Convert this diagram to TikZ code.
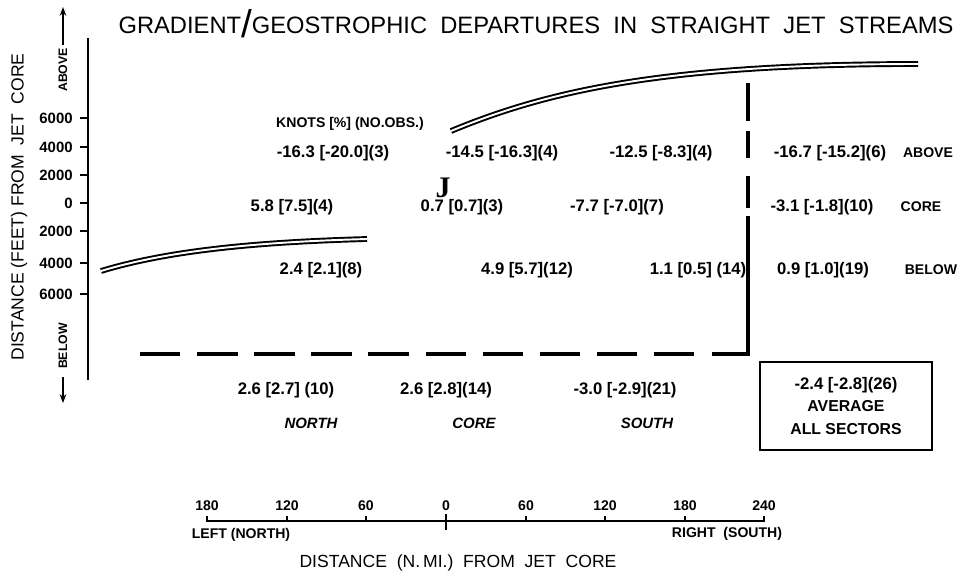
\documentclass[tikz,border=0pt]{standalone}
\usepackage{fontspec}
\setmainfont{Liberation Sans}
\usepackage{tikz}
\usetikzlibrary{positioning}
\usetikzlibrary{arrows.meta}
\tikzset{
title_text/.style={font=\fontsize{13.5}{15}\selectfont, inner sep=0pt},
axis_title/.style={font=\fontsize{10}{11}\selectfont, inner sep=0pt},
value/.style={font=\bfseries\fontsize{9.5}{11}\selectfont, inner sep=0pt},
row_label/.style={font=\bfseries\fontsize{8}{10}\selectfont, inner sep=0pt},
side_label/.style={font=\bfseries\fontsize{7}{8}\selectfont, inner sep=0pt, rotate=90},
sector_label/.style={font=\bfseries\itshape\fontsize{8.5}{10}\selectfont, inner sep=0pt},
tick_label/.style={font=\bfseries\fontsize{8.5}{10}\selectfont, anchor=east, inner sep=0pt},
scale_label/.style={font=\bfseries\fontsize{8}{10}\selectfont, inner sep=0pt},
jet_core/.style={double, line width=1.1pt, double distance=1.1pt},
heavy_dash/.style={line width=2pt}
}

\begin{document}
\begin{tikzpicture}[x=0.02cm,y=-0.02cm]
    \useasboundingbox (0,0) rectangle (968,582);
    \node[title_text] (title) at (536,24) {GRADIENT\raisebox{-2.5pt}{\fontsize{22}{22}\selectfont/}GEOSTROPHIC\ \ DEPARTURES\ \ IN\ \ STRAIGHT\ \ JET\ \ STREAMS};

    % height axis
    \draw[line width=1.1pt] (88,38) -- (88,380);
    \foreach \y/\lab in {118/6000,147/4000,175/2000,203/0,231/2000,263/4000,294/6000} {
        \draw[line width=1pt] (80,\y) -- (88,\y);
        \node[tick_label] (tick_\y) at (73,\y) {\lab};
    }
    \node[axis_title, rotate=90] (height_title) at (19,207) {DISTANCE\ (FEET)\ FROM\ \ JET\ \ CORE};
    \node[side_label] (above_side) at (63,70) {ABOVE};
    \node[side_label] (below_side) at (63,346) {BELOW};
    \coordinate (above_tip) at (63,7);
    \coordinate (below_tip) at (63,403);
    \draw[line width=1pt, -{Stealth[length=5pt]}] (above_side.east) ++(0,-3) -- (above_tip);
    \draw[line width=1pt, -{Stealth[length=5pt]}] (below_side.west) ++(0,8) -- (below_tip);

    % jet cores
    \draw[jet_core] (101,271) .. controls (170,250) and (260,242) .. (367,239);
    \draw[jet_core] (451,131) .. controls (545,92) and (660,64) .. (918,64);

    % sector boundaries
    \draw[heavy_dash, dash pattern=on 23pt off 9.5pt] (140,354) -- (702,354);
    \draw[heavy_dash] (712,354) -- (748,354) -- (748,216);
    \foreach \a/\b in {83/121,131/158,176/208}
        \draw[heavy_dash] (748,\a) -- (748,\b);

    % values
    \node[row_label] (knots) at (350,124) {KNOTS [\%] (NO.OBS.)};
    \node[value] (above_north) at (333,153) {-16.3 [-20.0](3)};
    \node[value] (above_core) at (502,153) {-14.5 [-16.3](4)};
    \node[value] (above_south) at (661,153) {-12.5 [-8.3](4)};
    \node[value] (above_all) at (830,153) {-16.7 [-15.2](6)};
    \node[row_label] (above_row) at (928,153) {ABOVE};
    \node[value] (core_north) at (292,207) {5.8 [7.5](4)};
    \node[value] (core_core) at (462,207) {0.7 [0.7](3)};
    \node[value] (core_south) at (617,207) {-7.7 [-7.0](7)};
    \node[value] (core_all) at (822,207) {-3.1 [-1.8](10)};
    \node[row_label] (core_row) at (921,207) {CORE};
    \node[value] (below_north) at (321,270) {2.4 [2.1](8)};
    \node[value] (below_core) at (527,270) {4.9 [5.7](12)};
    \node[value] (below_south) at (698,270) {1.1 [0.5] (14)};
    \node[value] (below_all) at (823,270) {0.9 [1.0](19)};
    \node[row_label] (below_row) at (931,270) {BELOW};
    \node[font=\bfseries\fontspec{Liberation Serif}\fontsize{17}{17}\selectfont, inner sep=0pt] (jet_mark) at (443,188) {J};

    \node[value] (mean_north) at (286,390) {2.6 [2.7] (10)};
    \node[value] (mean_core) at (446,390) {2.6 [2.8](14)};
    \node[value] (mean_south) at (625,390) {-3.0 [-2.9](21)};
    \node[sector_label] (north) at (311,423) {NORTH};
    \node[sector_label] (core) at (474,423) {CORE};
    \node[sector_label] (south) at (647,423) {SOUTH};
    \node[draw, line width=1pt, minimum width=97.5pt, minimum height=50pt, align=center,
          font=\bfseries\fontsize{9}{13}\selectfont] (average) at (846,406)
          {{\fontsize{9.5}{13}\selectfont -2.4 [-2.8](26)}\\AVERAGE\\ALL SECTORS};

    % distance scale
    \draw[line width=0.8pt] (207,516) -- (207,521) -- (764,521) -- (764,516);
    \foreach \x/\lab [count=\i] in {207/180,287/120,366/60,446/0,526/60,605/120,685/180,764/240} {
        \draw[line width=0.8pt] (\x,516) -- (\x,521);
        \node[scale_label] (scale_\i) at (\x,506) {\lab};
    }
    \draw[line width=0.8pt] (446,514) -- (446,530);
    \node[scale_label] (left_north) at (241,535) {LEFT (NORTH)};
    \node[scale_label] (right_south) at (727,534) {RIGHT\ \ (SOUTH)};
    \node[axis_title] (distance_title) at (458,563) {DISTANCE\ \ (N.\,MI.)\ \ FROM\ \ JET\ \ CORE};
\end{tikzpicture}
\end{document}
